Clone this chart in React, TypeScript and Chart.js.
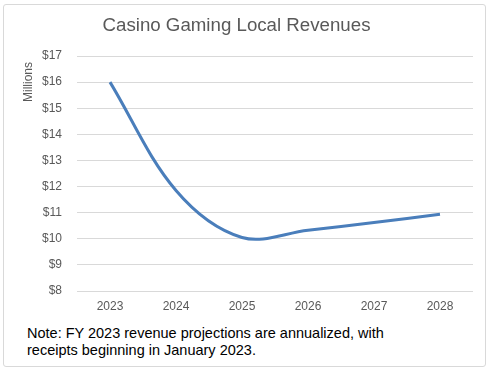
import React, { useEffect, useRef } from "react";
import { Chart, registerables } from "chart.js";

Chart.register(...registerables);

const TITLE = "Casino Gaming Local Revenues";
const Y_LABEL = "Millions";
const NOTE_LINES = [
  "Note: FY 2023 revenue projections are annualized, with",
  "receipts beginning in January 2023.",
];
const years = ["2023", "2024", "2025", "2026", "2027", "2028"];
const revenues = [16.0, 11.85, 10.05, 10.33, 10.62, 10.94];
const yMin = 8;
const yMax = 17;

const FONT = "'Liberation Sans', Arial, sans-serif";

const yLabelPlugin = {
  id: "yLabel",
  afterDraw(chart: any) {
    const ctx = chart.ctx;
    ctx.save();
    ctx.translate(28.5, 82);
    ctx.rotate(-Math.PI / 2);
    ctx.font = `12px ${FONT}`;
    ctx.fillStyle = "#595959";
    ctx.textAlign = "center";
    ctx.textBaseline = "middle";
    ctx.fillText(Y_LABEL, 0, 0);
    ctx.restore();
  },
};

export default function App() {
  const ref = useRef<HTMLCanvasElement>(null);
  useEffect(() => {
    if (!ref.current) return;
    const chart = new Chart(ref.current, {
      type: "line",
      data: {
        labels: years,
        datasets: [
          {
            data: revenues,
            borderColor: "#4a7ebb",
            borderWidth: 3,
            pointRadius: 0,
            tension: 0.35,
            fill: false,
          },
        ],
      },
      options: {
        responsive: false,
        animation: false,
        layout: { padding: { left: 0, right: 19, top: 0, bottom: 0 } },
        plugins: {
          legend: { display: false },
          tooltip: { enabled: false },
          title: {
            display: true,
            text: TITLE,
            color: "#595959",
            font: { family: FONT, size: 18.7, weight: "normal" },
            padding: { top: 15, bottom: 18.6 },
          },
        },
        scales: {
          x: {
            offset: true,
            grid: { display: false, drawTicks: false },
            border: { display: false },
            ticks: {
              color: "#595959",
              font: { family: FONT, size: 12 },
              padding: 8,
              maxRotation: 0,
            },
            afterFit: (s: any) => {
              s.height = 29;
            },
          },
          y: {
            min: yMin,
            max: yMax,
            grid: { color: "#d9d9d9", lineWidth: 1, drawTicks: false },
            border: { display: false },
            ticks: {
              stepSize: 1,
              color: "#595959",
              font: { family: FONT, size: 12 },
              padding: 15,
              callback: (v: any) => "$" + v,
            },
            afterFit: (s: any) => {
              s.width = 77;
            },
          },
        },
      },
      plugins: [yLabelPlugin],
    });
    return () => chart.destroy();
  }, []);

  return (
    <div style={{ position: "fixed", left: 0, top: 0, width: 492, height: 368, background: "#fff" }}>
      <div
        style={{
          position: "absolute",
          left: 3,
          top: 4,
          width: 481,
          height: 361,
          border: "1.5px solid #d9d9d9",
          borderRadius: 3,
        }}
      />
      <canvas ref={ref} width={492} height={320} style={{ position: "absolute", left: 0, top: 0 }} />
      <div
        style={{
          position: "absolute",
          left: 27,
          top: 325,
          fontFamily: FONT,
          fontSize: 14.5,
          lineHeight: "16.7px",
          color: "#000",
          whiteSpace: "nowrap",
        }}
      >
        {NOTE_LINES.map((l, i) => (
          <div key={i}>{l}</div>
        ))}
      </div>
    </div>
  );
}
